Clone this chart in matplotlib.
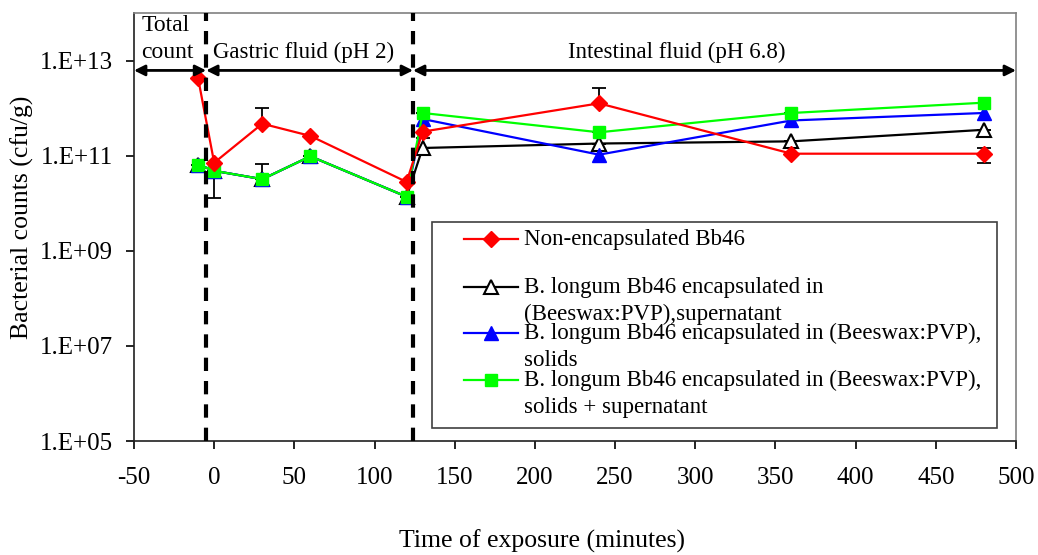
import matplotlib
matplotlib.use('Agg')
import matplotlib.pyplot as plt
from matplotlib.lines import Line2D
from matplotlib.patches import Rectangle
from matplotlib.ticker import FixedLocator, FixedFormatter
import numpy as np

plt.rcParams['font.family'] = ['Liberation Serif', 'DejaVu Serif']
plt.rcParams['axes.unicode_minus'] = False

# sampling times (minutes)
times = [-10, 0, 30, 60, 120, 130, 240, 360, 480]

# bacterial counts (cfu/g)
non_encap = [4.2e12, 7.1e10, 4.7e11, 2.6e11, 2.8e10, 3.2e11, 1.26e12, 1.1e11, 1.1e11]
supernatant = [6.5e10, 4.8e10, 3.2e10, 9.7e10, 1.37e10, 1.45e11, 1.8e11, 2.0e11, 3.5e11]
solids = [6.5e10, 4.8e10, 3.2e10, 9.7e10, 1.37e10, 5.9e11, 1.05e11, 5.5e11, 7.9e11]
solids_super = [6.5e10, 4.8e10, 3.2e10, 9.7e10, 1.37e10, 7.9e11, 3.1e11, 7.9e11, 1.3e12]

# error bars (lower, upper)
non_encap_err_lo = [0, 0, 0, 0, 0, 0, 0, 0, 0.41e11]
non_encap_err_hi = [0, 0, 5.5e11, 0, 0, 0, 1.4e12, 0, 0.38e11]
supernatant_err_lo = [0, 0, 0, 0, 0, 0, 0, 0, 0]
supernatant_err_hi = [0, 0, 0, 0, 0, 0.9e11, 0, 0, 0]
solids_super_err_lo = [0, 3.5e10, 0, 0, 0, 0, 0, 0, 0]
solids_super_err_hi = [0, 0.8e10, 3.6e10, 0, 0, 0, 0, 0, 0]

labels = [['Non-encapsulated Bb46'],
          ['B. longum Bb46 encapsulated in', '(Beeswax:PVP),supernatant'],
          ['B. longum Bb46 encapsulated in (Beeswax:PVP),', 'solids'],
          ['B. longum Bb46 encapsulated in (Beeswax:PVP),', 'solids + supernatant']]

phase_bounds = [-50, -5, 124, 500]
phase_names = ['Total', 'count', 'Gastric fluid (pH 2)', 'Intestinal fluid (pH 6.8)']

W, H = 1038, 555
fig = plt.figure(figsize=(W / 100, H / 100), dpi=100)
ax = fig.add_axes([134 / W, 1 - 441 / H, (1016 - 134) / W, (441 - 13) / H])


def px(x, y):
    return x / W, 1 - y / H


ax.set_yscale('log')
ax.set_xlim(-50, 500)
ax.set_ylim(1e5, 1e14)

# error bars
for vals, lo, hi in [(supernatant, supernatant_err_lo, supernatant_err_hi),
                     (solids_super, solids_super_err_lo, solids_super_err_hi),
                     (non_encap, non_encap_err_lo, non_encap_err_hi)]:
    ax.errorbar(times, vals, yerr=[lo, hi], fmt='none', ecolor='black',
                elinewidth=1.3, capsize=5, capthick=1.3, zorder=2)

styles = [
    dict(color='black', marker='^', ms=10, mfc='white', mec='black', mew=1.5),
    dict(color='#0000ff', marker='^', ms=10, mfc='#0000ff', mec='#0000ff'),
    dict(color='#00ff00', marker='s', ms=9, mfc='#00ff00', mec='#00ff00'),
    dict(color='#ff0000', marker='D', ms=8, mfc='#ff0000', mec='#ff0000'),
]
series = [supernatant, solids, solids_super, non_encap]
for vals, st in zip(series, styles):
    ax.plot(times, vals, lw=1.6, zorder=3, **st)

# phase dividers
for xb in phase_bounds[1:3]:
    ax.axvline(xb, color='black', lw=3, linestyle=(0, (3.2, 2.4)), zorder=4)

# phase arrows
arrow_y = 6.2e12
for a, b in zip(phase_bounds[:-1], phase_bounds[1:]):
    ax.annotate('', xy=(b, arrow_y), xytext=(a, arrow_y),
                arrowprops=dict(arrowstyle='<|-|>', color='black', lw=2,
                                mutation_scale=16, shrinkA=0, shrinkB=0), zorder=5)

ax.text(-45.5, 10 ** 13.74, phase_names[0], fontsize=17, ha='left', va='center')
ax.text(-45.5, 10 ** 13.17, phase_names[1], fontsize=17, ha='left', va='center')
ax.text(-1, 10 ** 13.17, phase_names[2], fontsize=16.5, ha='left', va='center')
ax.text(220.5, 10 ** 13.17, phase_names[3], fontsize=16.5, ha='left', va='center')

# axes styling
for side in ['top', 'right']:
    ax.spines[side].set_color('#808080')
for side in ['left', 'bottom']:
    ax.spines[side].set_color('#202020')
for sp in ax.spines.values():
    sp.set_linewidth(1.2)

ax.set_xticks(np.arange(-50, 501, 50))
ax.yaxis.set_major_locator(FixedLocator([1e5, 1e7, 1e9, 1e11, 1e13]))
ax.yaxis.set_major_formatter(FixedFormatter(['1.E+05', '1.E+07', '1.E+09', '1.E+11', '1.E+13']))
ax.yaxis.set_minor_locator(FixedLocator([]))
ax.tick_params(axis='both', direction='out', length=6, width=1.2, labelsize=18)
ax.tick_params(axis='x', pad=13)
ax.tick_params(axis='y', pad=9)

fig.text(*px(542, 541), 'Time of exposure (minutes)', fontsize=18.5, ha='center', va='center')
fig.text(*px(22, 217), 'Bacterial counts (cfu/g)', fontsize=18.5, ha='center', va='center',
         rotation=90)

# legend box drawn by hand (Excel-like layout)
x0, y0 = px(432, 428)
x1, y1 = px(997, 222)
fig.add_artist(Rectangle((x0, y0), x1 - x0, y1 - y0, transform=fig.transFigure,
                         facecolor='white', edgecolor='#404040', lw=1.2, zorder=6))
leg_rows = [239, 287, 333, 380]
leg_styles = [styles[3], styles[0], styles[1], styles[2]]
for row, st, lines in zip(leg_rows, leg_styles, labels):
    lx0, ly = px(464, row)
    lx1, _ = px(518, row)
    mx, _ = px(491, row)
    fig.add_artist(Line2D([lx0, lx1], [ly, ly], transform=fig.transFigure,
                          color=st['color'], lw=1.6, zorder=7))
    mst = {k: v for k, v in st.items() if k != 'color'}
    fig.add_artist(Line2D([mx], [ly], transform=fig.transFigure, lw=0, zorder=7, **mst))
    for i, line in enumerate(lines):
        tx, ty = px(524, row + 27 * i)
        fig.text(tx, ty, line, fontsize=16.5, ha='left', va='center', zorder=7)

fig.savefig('out.png', dpi=100)
